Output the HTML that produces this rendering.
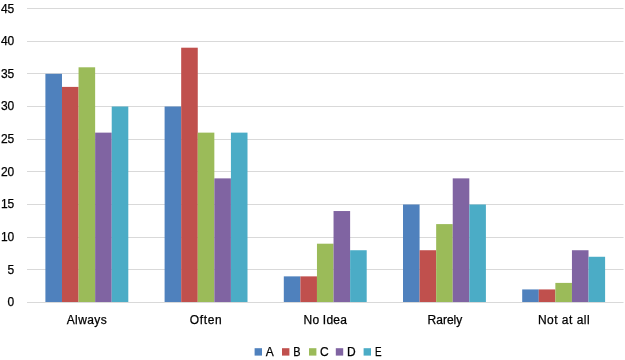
<!DOCTYPE html>
<html><head><meta charset="utf-8"><style>
html,body{margin:0;padding:0;background:#fff;}
body{width:625px;height:360px;overflow:hidden;}
svg{display:block;will-change:transform;font-family:"Liberation Sans",sans-serif;fill:#000;}
text{stroke:#000;stroke-width:0.25;}
</style></head><body>
<svg width="625" height="360" viewBox="0 0 625 360">
<rect width="625" height="360" fill="#fff"/>
<rect x="27" y="302" width="596.5" height="1" fill="#d9d9d9"/>
<text x="14.3" y="306.45" text-anchor="end" font-size="12">0</text>
<rect x="27" y="269" width="596.5" height="1" fill="#d9d9d9"/>
<text x="14.3" y="273.78" text-anchor="end" font-size="12">5</text>
<rect x="27" y="237" width="596.5" height="1" fill="#d9d9d9"/>
<text x="14.3" y="241.12" text-anchor="end" font-size="12">10</text>
<rect x="27" y="204" width="596.5" height="1" fill="#d9d9d9"/>
<text x="14.3" y="208.45" text-anchor="end" font-size="12">15</text>
<rect x="27" y="171" width="596.5" height="1" fill="#d9d9d9"/>
<text x="14.3" y="175.78" text-anchor="end" font-size="12">20</text>
<rect x="27" y="139" width="596.5" height="1" fill="#d9d9d9"/>
<text x="14.3" y="143.12" text-anchor="end" font-size="12">25</text>
<rect x="27" y="106" width="596.5" height="1" fill="#d9d9d9"/>
<text x="14.3" y="110.45" text-anchor="end" font-size="12">30</text>
<rect x="27" y="73" width="596.5" height="1" fill="#d9d9d9"/>
<text x="14.3" y="77.78" text-anchor="end" font-size="12">35</text>
<rect x="27" y="41" width="596.5" height="1" fill="#d9d9d9"/>
<text x="14.3" y="45.12" text-anchor="end" font-size="12">40</text>
<rect x="27" y="8" width="596.5" height="1" fill="#d9d9d9"/>
<text x="14.3" y="13.45" text-anchor="end" font-size="12">45</text>
<rect x="45.40" y="73.83" width="16.58" height="228.17" fill="#4f81bd"/>
<rect x="61.98" y="86.9" width="16.58" height="215.10" fill="#c0504d"/>
<rect x="78.56" y="67.3" width="16.58" height="234.70" fill="#9bbb59"/>
<rect x="95.14" y="132.63" width="16.58" height="169.37" fill="#8064a2"/>
<rect x="111.72" y="106.5" width="16.58" height="195.50" fill="#4bacc6"/>
<text x="86.7" y="324.4" text-anchor="middle" font-size="12" textLength="40.0" lengthAdjust="spacing">Always</text>
<rect x="164.60" y="106.5" width="16.58" height="195.50" fill="#4f81bd"/>
<rect x="181.18" y="47.7" width="16.58" height="254.30" fill="#c0504d"/>
<rect x="197.76" y="132.63" width="16.58" height="169.37" fill="#9bbb59"/>
<rect x="214.34" y="178.37" width="16.58" height="123.63" fill="#8064a2"/>
<rect x="230.92" y="132.63" width="16.58" height="169.37" fill="#4bacc6"/>
<text x="205.8" y="324.4" text-anchor="middle" font-size="12" textLength="31.9" lengthAdjust="spacing">Often</text>
<rect x="283.80" y="276.37" width="16.58" height="25.63" fill="#4f81bd"/>
<rect x="300.38" y="276.37" width="16.58" height="25.63" fill="#c0504d"/>
<rect x="316.96" y="243.7" width="16.58" height="58.30" fill="#9bbb59"/>
<rect x="333.54" y="211.03" width="16.58" height="90.97" fill="#8064a2"/>
<rect x="350.12" y="250.23" width="16.58" height="51.77" fill="#4bacc6"/>
<text x="325.2" y="324.4" text-anchor="middle" font-size="12" textLength="43.3" lengthAdjust="spacing">No Idea</text>
<rect x="403.00" y="204.5" width="16.58" height="97.50" fill="#4f81bd"/>
<rect x="419.58" y="250.23" width="16.58" height="51.77" fill="#c0504d"/>
<rect x="436.16" y="224.1" width="16.58" height="77.90" fill="#9bbb59"/>
<rect x="452.74" y="178.37" width="16.58" height="123.63" fill="#8064a2"/>
<rect x="469.32" y="204.5" width="16.58" height="97.50" fill="#4bacc6"/>
<text x="444.9" y="324.4" text-anchor="middle" font-size="12" textLength="34.8" lengthAdjust="spacing">Rarely</text>
<rect x="522.20" y="289.43" width="16.58" height="12.57" fill="#4f81bd"/>
<rect x="538.78" y="289.43" width="16.58" height="12.57" fill="#c0504d"/>
<rect x="555.36" y="282.9" width="16.58" height="19.10" fill="#9bbb59"/>
<rect x="571.94" y="250.23" width="16.58" height="51.77" fill="#8064a2"/>
<rect x="588.52" y="256.77" width="16.58" height="45.23" fill="#4bacc6"/>
<text x="563.75" y="324.4" text-anchor="middle" font-size="12" textLength="51.7" lengthAdjust="spacing">Not at all</text>
<rect x="254.6" y="348.2" width="7.4" height="7.4" fill="#4f81bd"/>
<text x="265.80" y="355.5" font-size="12">A</text>
<rect x="282" y="348.2" width="7.4" height="7.4" fill="#c0504d"/>
<text x="293.20" y="355.5" font-size="12" textLength="7.3" lengthAdjust="spacingAndGlyphs">B</text>
<rect x="309" y="348.2" width="7.4" height="7.4" fill="#9bbb59"/>
<text x="319.90" y="355.5" font-size="12">C</text>
<rect x="335.8" y="348.2" width="7.4" height="7.4" fill="#8064a2"/>
<text x="347.00" y="355.5" font-size="12">D</text>
<rect x="363.6" y="348.2" width="7.4" height="7.4" fill="#4bacc6"/>
<text x="375.10" y="355.5" font-size="12" textLength="6.6" lengthAdjust="spacingAndGlyphs">E</text>
</svg>
</body></html>
